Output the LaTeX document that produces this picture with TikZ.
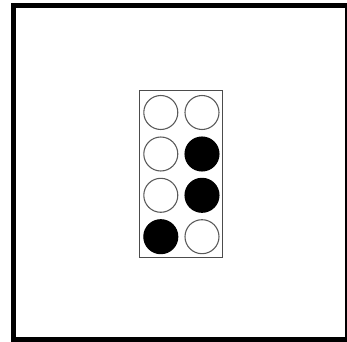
\documentclass[tikz,border=0pt]{standalone}
\begin{document}
\begin{tikzpicture}[x=0.75pt,y=-0.75pt,
  dot/.style={circle,draw=black!65,line width=0.8pt,minimum size=34*0.75pt,inner sep=0pt,fill=white},
  raised/.style={dot,fill=black,draw=black}]
\useasboundingbox (0,0) rectangle (347,342);
\fill[white] (0,0) rectangle (347,342);
\fill[black] (11,3) rectangle (346.5,342);
\fill[white] (16,8) rectangle (345.2,337.5);
\node[draw=black!70,line width=0.75pt,minimum width=83*0.75pt,minimum height=167*0.75pt,inner sep=0pt] (cell) at (180.7,173.7) {};
\node[dot] (d1) at (160.8,112.5) {};
\node[dot] (d4) at (202,112.5) {};
\node[dot] (d2) at (160.8,154) {};
\node[raised] (d5) at (202,154) {};
\node[dot] (d3) at (160.8,195.3) {};
\node[raised] (d6) at (202,195.3) {};
\node[raised] (d7) at (160.8,236.7) {};
\node[dot] (d8) at (202,236.7) {};
\end{tikzpicture}
\end{document}
